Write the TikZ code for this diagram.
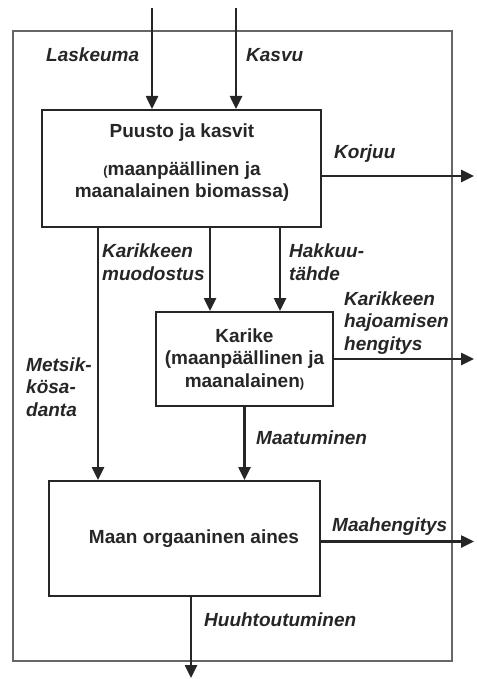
\documentclass[tikz,border=0pt]{standalone}
\usepackage{fontspec}
\setmainfont{Liberation Sans}
\usetikzlibrary{arrows.meta}
\newcommand{\pienisulku}[1]{{\fontsize{13}{13}\selectfont #1}}
\begin{document}
\begin{tikzpicture}[x=1pt,y=-1pt,
		laatikko/.style={draw=black!85,line width=2pt,inner sep=0pt},
		virta/.style={draw=black!85,line width=2.5pt,-{Triangle[length=13pt,width=12pt]}},
		teksti/.style={font=\fontsize{19}{22.5}\selectfont\bfseries,text=black!85,inner sep=0pt,align=center},
		nimi/.style={font=\fontsize{19}{22.5}\selectfont\bfseries\itshape,text=black!85,inner sep=0pt,anchor=west,align=left}]
		%	\draw[help lines,step=20] (0,0) grid (476,679);
			\useasboundingbox (0,0) rectangle (476,679);
			\draw[black!60,line width=1.5pt] (13,31) rectangle (452,661);
			% laatikot
			\node[laatikko,minimum width=279pt,minimum height=117pt] (puusto) at (181.5,168.5) {};
			\node[teksti] (puustoteksti) at (182,162.5) {Puusto ja kasvit\\[15.5pt]\pienisulku{(}maanpäällinen ja\\ maanalainen biomassa)};
			\node[laatikko,teksti,minimum width=177pt,minimum height=94pt] (karike) at (244.5,359) {Karike\\(maanpäällinen ja\\ maanalainen\pienisulku{)}};
			\node[laatikko,minimum width=271pt,minimum height=115pt] (maa) at (184.5,538.5) {};
			\node[teksti] (maateksti) at (194,539) {Maan orgaaninen aines};
			% virrat
			\coordinate (laskeuma) at (152,8);
			\coordinate (kasvu) at (236,8);
			\coordinate (korjuu) at (474,176);
			\coordinate (hajoaminen) at (474,359);
			\coordinate (maahengitys) at (474,541.5);
			\coordinate (huuhtoutuminen) at (191,678);
			\draw[virta] (laskeuma) -- (laskeuma |- puusto.north);
			\draw[virta] (kasvu) -- (kasvu |- puusto.north);
			\draw[virta] (puusto.east |- korjuu) -- (korjuu);
			\draw[virta] ([xshift=28.5pt]puusto.south) -- ([xshift=28.5pt]puusto.south |- karike.north);
			\draw[virta] ([xshift=98.5pt]puusto.south) -- ([xshift=98.5pt]puusto.south |- karike.north);
			\draw[virta] ([xshift=-83.5pt]puusto.south) -- ([xshift=-83.5pt]puusto.south |- maa.north);
			\draw[virta] (karike.east |- hajoaminen) -- (hajoaminen);
			\draw[virta] (karike.south) -- (karike.south |- maa.north);
			\draw[virta] (maa.east |- maahengitys) -- (maahengitys);
			\draw[virta] (maa.south -| huuhtoutuminen) -- (huuhtoutuminen);
			% nimet
			\node[nimi] (laskeumanimi) at (46,55) {Laskeuma};
			\node[nimi] (kasvunimi) at (246,55) {Kasvu};
			\node[nimi] (korjuunimi) at (334,154) {Korjuu};
			\node[nimi] (muodostusnimi) at (102,262) {Karikkeen\\muodostus};
			\node[nimi] (hakkuunimi) at (289,262) {Hakkuu-\\tähde};
			\node[nimi] (hajoamisnimi) at (344,323) {Karikkeen\\hajoamisen\\hengitys};
			\node[nimi] (sadantanimi) at (26,387) {Metsik-\\kösa-\\danta};
			\node[nimi] (maatuminennimi) at (256,438) {Maatuminen};
			\node[nimi] (maahengitysnimi) at (332,527) {Maahengitys};
			\node[nimi] (huuhtoutuminennimi) at (204,620) {Huuhtoutuminen};
		\end{tikzpicture}
\end{document}
